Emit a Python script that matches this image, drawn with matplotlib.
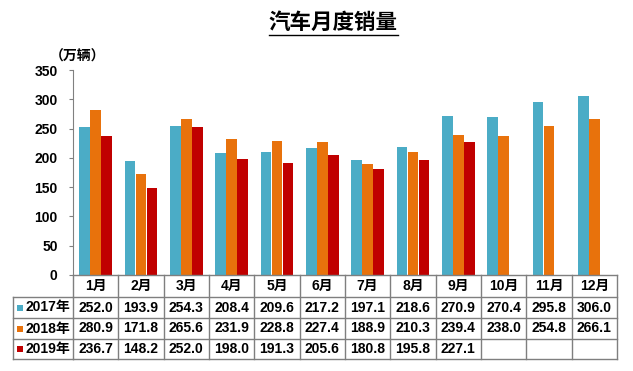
import numpy as np
import matplotlib
matplotlib.use("Agg")
import matplotlib.pyplot as plt
from matplotlib.transforms import blended_transform_factory
from matplotlib.lines import Line2D

plt.rcParams['font.family'] = ['Liberation Sans', 'Noto Sans CJK SC', 'DejaVu Sans']
plt.rcParams['font.weight'] = 'bold'

months = ['1月', '2月', '3月', '4月', '5月', '6月', '7月', '8月', '9月', '10月', '11月', '12月']
series_names = ['2017年', '2018年', '2019年']
s2017 = [252.0, 193.9, 254.3, 208.4, 209.6, 217.2, 197.1, 218.6, 270.9, 270.4, 295.8, 306.0]
s2018 = [280.9, 171.8, 265.6, 231.9, 228.8, 227.4, 188.9, 210.3, 239.4, 238.0, 254.8, 266.1]
s2019 = [236.7, 148.2, 252.0, 198.0, 191.3, 205.6, 180.8, 195.8, 227.1]
colors = ['#4BACC6', '#E8720C', '#C00000']
yticks = [0, 50, 100, 150, 200, 250, 300, 350]

W, H = 633, 371
fig = plt.figure(figsize=(W / 100, H / 100), dpi=100)
ax = fig.add_axes([73 / W, (H - 275) / H, (617 - 73) / W, (275 - 70) / H])

series = [s2017, s2018, s2019]
x = np.arange(len(months))
bw = 0.235
offs = [-0.24, 0.0, 0.24]
for s, c, o in zip(series, colors, offs):
    xs = x[:len(s)] + o
    ax.bar(xs, s, width=bw, color=c, edgecolor='none', zorder=2)

ax.set_xlim(-0.5, len(months) - 0.5)
ax.set_ylim(0, 350)
ax.set_yticks(yticks)
ax.set_yticklabels([str(v) for v in yticks], fontsize=10, fontweight='bold')
ax.tick_params(axis='y', length=3, width=0.8, color='#808080', pad=8)
ax.set_xticks([])
for sp in ['top', 'right', 'bottom']:
    ax.spines[sp].set_visible(False)
ax.spines['left'].set_color('#808080')
ax.spines['left'].set_linewidth(0.8)

# Title
t = fig.text(333 / W, (H - 23) / H, '汽车月度销量', ha='center', va='center',
             fontsize=15.5, fontweight='bold', color='black')
fig.canvas.draw()
bb = t.get_window_extent()
fig.add_artist(Line2D([bb.x0 / W, bb.x1 / W], [(bb.y0 - 1) / H, (bb.y0 - 1) / H],
                      transform=fig.transFigure, color='black', lw=1.0))

fig.text(78 / W, (H - 57) / H, '（万辆）', ha='center', va='center', fontsize=10, fontweight='bold')

# Table
tr = blended_transform_factory(ax.transData, fig.transFigure)
lc = '#7F7F7F'
lw = 1.0
def fy(py):
    return (H - py) / H

row_edges = [275, 297, 318, 339, 359]
x_left_px = 13
x_ax_px = 73
for k in range(len(months) + 1):
    xv = k - 0.5
    fig.add_artist(Line2D([xv, xv], [fy(275), fy(359)], transform=tr, color=lc, lw=lw))
for i, py in enumerate(row_edges):
    fig.add_artist(Line2D([-0.5, len(months) - 0.5], [fy(py), fy(py)], transform=tr, color=lc, lw=lw))
    if i >= 1:
        fig.add_artist(Line2D([x_left_px / W, x_ax_px / W], [fy(py), fy(py)],
                              transform=fig.transFigure, color=lc, lw=lw))
fig.add_artist(Line2D([x_left_px / W, x_left_px / W], [fy(297), fy(359)],
                      transform=fig.transFigure, color=lc, lw=lw))

for k, m in enumerate(months):
    fig.text(k, fy(286), m, transform=tr, ha='center', va='center', fontsize=10, fontweight='bold')
for r, (name, s, c) in enumerate(zip(series_names, series, colors)):
    yc = fy((row_edges[r + 1] + row_edges[r + 2]) / 2)
    fig.add_artist(plt.Rectangle((17 / W, yc - 3 / H), 6 / W, 6 / H, transform=fig.transFigure,
                                 color=c, lw=0))
    fig.text(26 / W, yc, name, ha='left', va='center', fontsize=10, fontweight='bold')
    for k, v in enumerate(s):
        fig.text(k, yc, f'{v:.1f}', transform=tr, ha='center', va='center',
                 fontsize=10, fontweight='bold')

fig.savefig('out.png', dpi=100)
